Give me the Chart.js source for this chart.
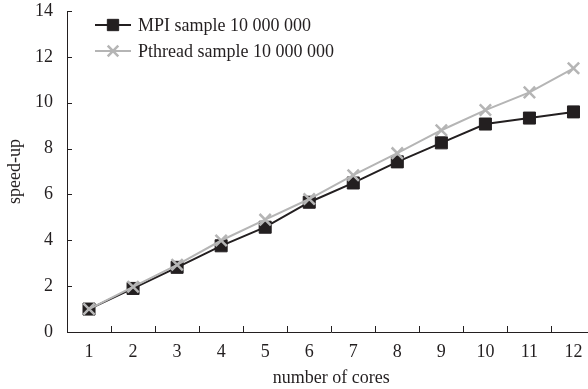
<!DOCTYPE html>
<html>
<head>
<meta charset="utf-8">
<script src="https://cdn.jsdelivr.net/npm/chart.js@4.4.1/dist/chart.umd.min.js"></script>
<style>
html,body{margin:0;padding:0;overflow:hidden;background:#fff;}
#wrap{width:606px;height:389px;position:relative;}
</style>
</head>
<body>
<div id="wrap"><canvas id="c" width="606" height="389"></canvas></div>
<script>
const categories = ['1','2','3','4','5','6','7','8','9','10','11','12'];
const mpiValues = [1.0, 1.9, 2.82, 3.76, 4.57, 5.66, 6.5, 7.42, 8.25, 9.07, 9.33, 9.6];
const pthreadValues = [1.0, 1.97, 2.93, 3.99, 4.9, 5.8, 6.84, 7.8, 8.8, 9.68, 10.45, 11.5];
const yTicks = [0, 2, 4, 6, 8, 10, 12, 14];
const seriesNames = ['MPI sample 10 000 000', 'Pthread sample 10 000 000'];
const xTitle = 'number of cores';
const yTitle = 'speed-up';

const FONT = '"Liberation Serif", "Times New Roman", serif';
const TEXT = '#231f20';
const MPI_COLOR = '#231f20';
const PT_COLOR = '#b5b5b5';
const FS = 18;

const decor = {
  id: 'decor',
  afterDraw(chart) {
    const ctx = chart.ctx;
    const xs = chart.scales.x, ys = chart.scales.y;
    const area = chart.chartArea;
    ctx.save();
    ctx.strokeStyle = '#231f20';
    ctx.lineWidth = 1;
    for (let i = 1; i < categories.length; i++) {
      const x = Math.round((xs.getPixelForValue(i - 1) + xs.getPixelForValue(i)) / 2) + 0.5;
      ctx.beginPath();
      ctx.moveTo(x, area.bottom);
      ctx.lineTo(x, area.bottom - 6);
      ctx.stroke();
    }
    yTicks.forEach(v => {
      const y = Math.round(ys.getPixelForValue(v)) + 0.5;
      ctx.beginPath();
      ctx.moveTo(area.left, y);
      ctx.lineTo(area.left + 5, y);
      ctx.stroke();
    });
    const dss = chart.data.datasets;
    ctx.font = FS + 'px ' + FONT;
    ctx.textBaseline = 'middle';
    ctx.textAlign = 'left';
    dss.forEach((ds, k) => {
      const y = 25 + k * 26;
      const x0 = 95, x1 = 131;
      ctx.strokeStyle = ds.borderColor;
      ctx.lineWidth = ds.borderWidth;
      ctx.beginPath();
      ctx.moveTo(x0, y);
      ctx.lineTo(x1, y);
      ctx.stroke();
      ctx.fillStyle = ds.pointBackgroundColor;
      ctx.strokeStyle = ds.pointBorderColor;
      ctx.lineWidth = ds.pointBorderWidth;
      Chart.helpers.drawPoint(ctx, {
        pointStyle: ds.pointStyle,
        radius: ds.pointRadius - 0.5,
        borderWidth: ds.pointBorderWidth
      }, (x0 + x1) / 2, y);
      ctx.fillStyle = TEXT;
      ctx.fillText(ds.label, 138, y + 1);
    });
    ctx.restore();
  }
};

new Chart(document.getElementById('c'), {
  type: 'line',
  data: {
    labels: categories,
    datasets: [
      {
        label: seriesNames[0],
        data: mpiValues,
        borderColor: MPI_COLOR,
        backgroundColor: MPI_COLOR,
        borderWidth: 2,
        pointStyle: 'rect',
        pointRadius: 8.5,
        pointBorderWidth: 1,
        pointBackgroundColor: MPI_COLOR,
        pointBorderColor: MPI_COLOR,
        tension: 0,
        order: 1
      },
      {
        label: seriesNames[1],
        data: pthreadValues,
        borderColor: PT_COLOR,
        backgroundColor: PT_COLOR,
        borderWidth: 2,
        pointStyle: 'crossRot',
        pointRadius: 8,
        pointBorderWidth: 2.5,
        pointBackgroundColor: PT_COLOR,
        pointBorderColor: PT_COLOR,
        tension: 0,
        order: 0
      }
    ]
  },
  options: {
    responsive: false,
    animation: false,
    events: [],
    layout: { padding: 0 },
    plugins: { legend: { display: false }, tooltip: { enabled: false } },
    scales: {
      x: {
        type: 'category',
        offset: true,
        grid: { display: false, drawTicks: false, offset: true },
        border: { display: true, color: '#231f20', width: 1 },
        ticks: { color: TEXT, font: { family: FONT, size: FS }, padding: 9, maxRotation: 0, autoSkip: false },
        title: { display: true, text: xTitle, color: TEXT, font: { family: FONT, size: FS }, padding: { top: 10, bottom: 0 } },
        afterFit(s) { s.height = 57; }
      },
      y: {
        min: 0, max: 14,
        grid: { display: false, drawTicks: false },
        border: { display: true, color: '#231f20', width: 1 },
        afterBuildTicks(s) { s.ticks = yTicks.map(v => ({ value: v })); },
        ticks: { color: TEXT, font: { family: FONT, size: FS }, padding: 14 },
        title: { display: true, text: yTitle, color: TEXT, font: { family: FONT, size: FS }, padding: { top: 4, bottom: 0 } },
        afterFit(s) { s.width = 67; s.paddingTop = 11; s.paddingBottom = 0; }
      }
    }
  },
  plugins: [decor]
});
</script>
</body>
</html>
